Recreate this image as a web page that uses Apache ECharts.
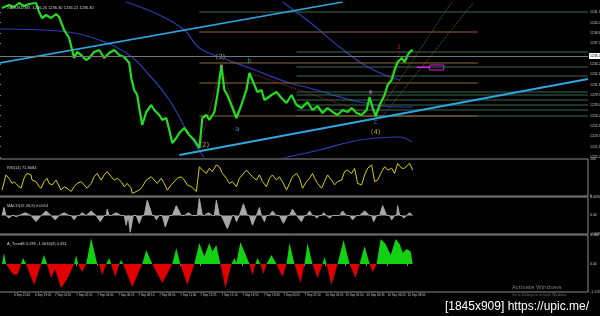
<!DOCTYPE html>
<html><head><meta charset="utf-8">
<script src="https://cdn.jsdelivr.net/npm/echarts@6/dist/echarts.min.js"></script>
<style>html,body{margin:0;padding:0;background:#000;}#c{width:600px;height:316px;}</style>
</head><body><div id="c"></div>
<script>
// ---------- DATA ----------
const priceBars = [[3,1242.6],[10,1243.05],[15,1242.75],[20,1243.35],[25,1242.9],[30,1243.2],[37,1243.35],[40,1242.0],[43,1241.1],[47,1241.55],[52,1241.1],[57,1241.7],[60,1241.25],[65,1239.3],[70,1238.1],[73,1236.3],[75,1235.1],[78,1236.0],[82,1235.55],[87,1234.8],[90,1235.1],[95,1236.0],[100,1236.3],[105,1235.1],[110,1235.85],[115,1236.3],[120,1235.55],[125,1235.25],[130,1234.35],[132,1232.1],[135,1230.3],[138,1229.55],[140,1227.6],[143,1225.05],[147,1227.0],[152,1228.05],[155,1227.3],[160,1226.55],[163,1225.8],[167,1226.1],[170,1224.3],[173,1222.35],[177,1223.1],[180,1223.85],[185,1224.6],[190,1223.55],[195,1222.8],[200,1221.6],[203,1226.1],[207,1226.55],[210,1225.8],[215,1227.0],[218,1229.55],[222,1233.9],[225,1230.3],[228,1229.55],[232,1228.05],[237,1226.1],[242,1228.05],[247,1230.3],[250,1232.85],[255,1231.05],[258,1230.0],[262,1230.3],[265,1228.8],[268,1229.1],[272,1229.55],[277,1230.0],[282,1229.1],[287,1228.35],[292,1229.55],[297,1228.05],[302,1227.6],[308,1228.5],[313,1227.3],[318,1227.9],[323,1226.85],[328,1227.6],[333,1227.0],[338,1226.55],[343,1227.3],[348,1227.0],[352,1227.6],[357,1226.85],[362,1226.55],[367,1227.3],[370,1229.25],[373,1227.6],[376,1226.4],[380,1228.05],[385,1229.55],[388,1231.05],[392,1231.8],[395,1233.3],[398,1234.5],[402,1235.1],[405,1234.5],[408,1235.55],[410,1236.0],[413,1236.3]];
const currentPrice = 1235.40;
const priceTicks = [1220.25,1221.80,1223.35,1224.90,1226.45,1228.00,1229.55,1231.10,1232.65,1234.20,1237.30,1238.85,1240.40,1241.95];

const navyA = [[0,1239.45],[60,1239.15],[100,1237.8],[130,1235.55],[150,1232.55],[170,1228.8],[190,1223.55],[205,1220.1]];
const navyB = [[127,1243.5],[160,1241.55],[185,1239.3],[200,1236.6],[223,1235.1],[250,1233.6],[290,1231.35],[310,1230.6],[360,1228.5],[400,1227.75],[413,1227.75]];
const navyC = [[283,1243.5],[310,1240.5],[340,1236.75],[370,1233.6],[400,1231.8]];
const navyD = [[283,1220.1],[320,1221.3],[360,1222.8],[400,1223.25],[412,1222.5]];

const cyanUpper = [[0,1234.35],[343,1243.5]];
const cyanLower = [[180,1220.55],[588,1231.95]];

const fibLevels = [1242.00,1236.00,1233.75,1232.40,1230.00,1229.55,1228.80,1228.05,1227.30,1226.40];
const fibNames  = ['423.6','261.8','200.0','161.8','100.0','61.8','50.0','38.2','23.6','0.0'];
const fibStart  = [200,297,297,297,297,297,297,297,297,297];
const fibEnd = 588;
const feLevels = [1239.00,1234.35,1231.35,1226.40];
const feNames  = ['FE 161.8','FE 100.0','FE 61.8','FE 0.0'];
const feStart = 200, feEnd = 478;

const fanA = [[376,1226.4],[452,1243.5]];
const fanB = [[383,1226.4],[474,1243.5]];
const waveLine = [[200,1221.6],[222,1233.9],[238,1226.1],[250,1232.85],[376,1226.4],[400,1236.15]];
const wavePts  = [[205,1222.0],[221,1235.2],[250,1234.6],[238,1224.4],[376,1225.4],[376,1224.0],[399,1236.7]];
const waveText = ['(2)','(3)','b','a','c','(4)','3'];
const waveKind = ['major','major','minor','minor','minor','major','red'];
const pivotDots = [[222,1233.9],[371,1230.0],[376,1226.6]];
const targetBox = [[430,1233.3],[444,1234.05]];
const targetDash = [[417,1233.7],[430,1233.7]];

const rsiPts = [[3,16],[7,57],[10,48],[13,34],[15,39],[18,30],[22,21],[25,48],[28,61],[32,57],[33,43],[37,39],[40,25],[42,21],[45,39],[48,48],[50,34],[53,30],[57,43],[58,48],[62,16],[65,25],[68,21],[72,12],[75,25],[78,34],[82,39],[85,30],[88,21],[92,34],[95,52],[98,61],[102,43],[105,57],[108,66],[112,52],[115,43],[118,48],[122,39],[125,25],[128,34],[132,21],[133,7],[137,12],[140,16],[143,25],[147,43],[152,52],[155,43],[158,34],[162,48],[165,34],[168,16],[172,30],[175,39],[178,48],[182,52],[185,43],[188,30],[192,25],[197,12],[200,79],[203,70],[207,61],[210,75],[213,66],[217,84],[220,79],[223,61],[227,48],[230,34],[233,39],[237,25],[240,48],[243,57],[247,70],[250,61],[253,52],[257,43],[260,57],[263,39],[267,25],[270,48],[273,57],[277,43],[280,52],[283,39],[287,16],[290,34],[293,52],[297,61],[300,48],[303,21],[307,39],[310,48],[313,61],[315,48],[318,34],[322,21],[325,39],[328,57],[332,43],[335,30],[338,39],[342,43],[345,66],[348,70],[352,61],[355,75],[358,34],[362,30],[365,57],[368,75],[372,84],[375,39],[378,43],[382,66],[385,79],[388,70],[392,75],[395,61],[398,88],[402,75],[405,75],[408,84],[410,88],[413,70]];

// [start, peak, end, value] histogram humps
const macdHumps = [[3,5,7,0.0041],[7,10,13,-0.0013],[15,17,20,-0.0006],[20,26,32,0.0014],[33,37,42,-0.0031],[43,47,52,0.0023],[53,56,60,-0.0022],[60,65,70,0.0014],[72,75,78,-0.0022],[80,83,87,0.0014],[88,92,97,0.0023],[98,101,105,-0.0031],[107,108,110,0.0032],[112,117,122,0.0014],[125,127,129,-0.0049],[130,131,134,-0.0085],[137,140,143,-0.0040],[145,148,153,0.0077],[155,157,160,-0.0022],[163,166,170,-0.0058],[173,177,182,0.0050],[185,189,193,0.0014],[198,200,203,0.0086],[205,209,213,0.0014],[215,217,220,0.0077],[222,228,233,-0.0067],[235,237,240,-0.0031],[240,244,248,0.0059],[250,253,257,-0.0049],[258,260,262,0.0041],[263,265,267,-0.0031],[270,273,277,0.0023],[280,284,288,-0.0040],[290,293,297,0.0032],[297,302,305,-0.0031],[307,310,313,0.0023],[315,317,320,-0.0013],[322,324,327,0.0014],[328,330,333,-0.0013],[340,343,347,0.0023],[350,353,357,-0.0022],[360,365,370,0.0023],[372,374,377,-0.0031],[380,383,387,0.0050],[390,392,395,-0.0022],[397,398,400,0.0050],[402,404,407,-0.0013],[408,410,413,0.0014]];

const trendPts = [[3,0],[5,0.44],[7,0],[8,0],[12,-0.3],[15,-0.44],[19,-0.4],[22,0],[24,0.24],[27,0],[28,0],[35,-0.84],[42,0],[43,0],[45,0.36],[48,0],[49,0],[52,-0.56],[56,-0.2],[62,-0.96],[68,-0.6],[75,0],[76,0],[77,0.36],[79,0],[80,0],[83,-0.32],[87,0],[92,1.04],[98,0],[100,0],[103,-0.44],[107,0],[110,0.24],[112,0],[116,-0.52],[120,0],[122,0.16],[124,0],[125,0],[133,-0.92],[143,0],[147,0.56],[153,0],[154,0],[163,-0.76],[173,0],[177,0.64],[181,0],[182,0],[188,-0.84],[195,0],[200,0.84],[205,0.3],[210,0.84],[213,0.5],[217,0.76],[221,0],[226,-0.96],[232,0],[235,0.24],[237,0.05],[241,0.88],[250,0],[253,-0.44],[256,0],[258,0.24],[261,0],[264,-0.4],[267,0],[272,0.36],[277,0],[283,-0.52],[287,0],[290,0.84],[295,0],[301,-0.76],[305,0],[308,0.84],[313,0],[318,-0.56],[323,0],[325,0.28],[327,0],[332,-0.84],[338,0],[344,0.96],[350,0],[356,-0.56],[360,0],[365,0.72],[370,0],[373,-0.32],[377,0],[381,1.0],[386,0.8],[391,0.35],[396,1.0],[400,0.8],[403,0.45],[407,0.6],[411,0.5],[413,0]];

const timeTicks  = [3,15,36,56,77,98,119,139,160,181,201,222,243,264,284,305,326,346,367,388,408];
const timeLabels = ['6 Sep 2018','6 Sep 21:40','6 Sep 23:25','7 Sep 01:10','7 Sep 02:55','7 Sep 04:40','7 Sep 06:25','7 Sep 08:10','7 Sep 09:55','7 Sep 11:40','7 Sep 13:25','7 Sep 15:10','7 Sep 16:55','7 Sep 18:40','7 Sep 20:25','7 Sep 22:10','10 Sep 01:05','10 Sep 02:50','10 Sep 04:35','10 Sep 06:20','10 Sep 08:05'];

const headerText = 'XAUUSD,M5  1236.26 1236.30 1236.22 1236.30';
const paneTitles = ['RSI(14) 71.8084','MACD(12,26,9) 0.0014','A_TrendE 0.289 -1.5634(3) 0.431'];

// ---------- CHART ----------
const chart = echarts.init(document.getElementById('c'), null, {renderer:'canvas'});
const GREY = '#8c8c8c', LBL = '#c4c4c4';
const X_MAX = 588;
const G = {left:-1, right:12, outerBoundsMode:'none', containLabel:false};
const grids = [
  Object.assign({top:2, height:155}, G),
  Object.assign({top:159, height:37, show:true, borderColor:GREY, borderWidth:1}, G),
  Object.assign({top:197, height:37, show:true, borderColor:GREY, borderWidth:1}, G),
  Object.assign({top:235, height:57, show:true, borderColor:GREY, borderWidth:1}, G)
];
const xAxes = grids.map((g,i)=>({
  type:'value', gridIndex:i, min:0, max:X_MAX, show: i===3,
  splitLine:{show:false}, axisLine:{show:false},
  axisTick:{show:i===3, customValues:timeTicks, length:2, lineStyle:{color:GREY}},
  axisLabel:{show:i===3, customValues:timeTicks, fontSize:3, color:LBL, margin:2, align:'left',
    formatter:v=>{const k=timeTicks.indexOf(v);return k>=0?timeLabels[k]:'';}}
}));
const subAxis = (i,min,max,vals,fmt)=>({
  type:'value', gridIndex:i, position:'right', min, max, splitLine:{show:false},
  axisLine:{show:false}, axisTick:{show:false},
  axisLabel:{customValues:vals, fontSize:3.5, color:LBL, margin:2, formatter:fmt}
});
const yAxes = [
  {type:'value', gridIndex:0, position:'right', min:1220.25, max:1243.5, splitLine:{show:false},
   axisLine:{show:true, lineStyle:{color:GREY}}, axisTick:{show:true, customValues:priceTicks, length:2, lineStyle:{color:GREY}},
   axisLabel:{customValues:priceTicks, fontSize:3.5, color:LBL, margin:2, formatter:v=>v.toFixed(2)}},
  subAxis(1,0,100,[0,100],v=>String(v)),
  subAxis(2,-0.0094,0.0094,[-0.0094,0,0.0094],v=>v===0?'0.00':v.toFixed(4)),
  subAxis(3,-1.12,1.16,[-1.12,0,1.16],v=>v===0?'0.00':v.toFixed(3))
];

const lineS = (data, color, width, extra) => Object.assign({
  type:'line', data, xAxisIndex:0, yAxisIndex:0, symbol:'none', silent:true,
  lineStyle:{color, width}, animation:false
}, extra||{});

const series = [];
[navyA,navyB,navyC,navyD].forEach(d=>series.push(lineS(d,'#2a3fb0',1.2,{smooth:0.4})));
fibLevels.forEach((p,i)=>series.push(lineS([[fibStart[i],p],{value:[fibEnd,p],label:{show:true,position:'top',align:'right',distance:1,fontSize:4,color:'#4f8a66',formatter:fibNames[i]+' - '+p.toFixed(2)}}],'#3b6b50',1)));
feLevels.forEach((p,i)=>series.push(lineS([[feStart,p],{value:[feEnd,p],label:{show:true,position:'top',align:'right',distance:1,fontSize:4,color:'#b08a3a',formatter:feNames[i]+' - '+p.toFixed(2)}}],'#8a6a32',1)));
series.push(lineS(fanA,'#7a5a28',1,{lineStyle:{color:'#7a5a28',width:1,type:'dotted'}}));
series.push(lineS(fanB,'#7a5a28',1,{lineStyle:{color:'#7a5a28',width:1,type:'dotted'}}));
series.push(lineS(cyanUpper,'#2fa6e0',1.6));
series.push(lineS(cyanLower,'#2fa6e0',2));
series.push(lineS(waveLine,'#a02828',1,{lineStyle:{color:'#a02828',width:1,type:'dotted'}}));
series.push(lineS(priceBars,'#22dd22',2.2,{
  markLine:{silent:true, symbol:'none', animation:false,
    lineStyle:{color:'#777',width:1,type:'solid'},
    label:{position:'end',fontSize:3.5,color:'#000',backgroundColor:'#fff',padding:[1,1],distance:1,formatter:currentPrice.toFixed(2)},
    data:[{yAxis:currentPrice}]},
  markArea:{silent:true, itemStyle:{color:'rgba(0,0,0,0)',borderColor:'#e020e0',borderWidth:1},
    data:[[{coord:targetBox[0]},{coord:targetBox[1]}]]}
}));
series.push(lineS(targetDash,'#e020e0',1.5));
series.push({type:'scatter', data:pivotDots, symbol:'rect', symbolSize:3, itemStyle:{color:'#ff6fb8'}, silent:true, animation:false});
const waveColor = {major:'#d8c450', minor:'#3aa2dc', red:'#e03030'};
series.push({type:'scatter', symbolSize:0, silent:true, animation:false,
  data: wavePts.map((p,i)=>({value:p,label:{show:true,position:'inside',formatter:waveText[i],
    color:waveColor[waveKind[i]],fontSize:waveKind[i]==='red'?6:7,fontFamily:'DejaVu Sans'}}))});

series.push({type:'line', xAxisIndex:1, yAxisIndex:1, data:rsiPts, symbol:'none', lineStyle:{color:'#d8d000',width:1}, silent:true, animation:false});
const macdPts = [];
macdHumps.forEach(h=>{macdPts.push([h[0],0],[h[1],h[3]],[h[2],0]);});
series.push({type:'line', xAxisIndex:2, yAxisIndex:2, data:macdPts, symbol:'none', lineStyle:{color:'#a8a8a8',width:1}, areaStyle:{color:'#a8a8a8',opacity:1}, silent:true, animation:false});
const posPts = trendPts.map(p=>[p[0],Math.max(p[1],0)]);
const negPts = trendPts.map(p=>[p[0],Math.min(p[1],0)]);
series.push({type:'line', xAxisIndex:3, yAxisIndex:3, data:posPts, symbol:'none', lineStyle:{width:0}, areaStyle:{color:'#12d012',opacity:1}, silent:true, animation:false});
series.push({type:'line', xAxisIndex:3, yAxisIndex:3, data:negPts, symbol:'none', lineStyle:{width:0}, areaStyle:{color:'#e00000',opacity:1}, silent:true, animation:false});

const titles = [
  {text:headerText, left:2, top:1, textStyle:{fontSize:4, color:'#d0d0d0', fontWeight:'normal'}},
  {text:paneTitles[0], left:2, top:161, textStyle:{fontSize:4, color:'#d0d0d0', fontWeight:'normal'}},
  {text:paneTitles[1], left:2, top:199, textStyle:{fontSize:4, color:'#d0d0d0', fontWeight:'normal'}},
  {text:paneTitles[2], left:2, top:237, textStyle:{fontSize:4, color:'#d0d0d0', fontWeight:'normal'}},
  {text:'Activate Windows', left:507, top:279, textStyle:{fontSize:6, color:'#7a7a7a', fontWeight:'normal', fontFamily:'Noto Sans'}},
  {text:'Go to Settings to activate Windows.', left:507, top:288, textStyle:{fontSize:3.5, color:'#6a6a6a', fontWeight:'normal'}},
  {text:'[1845x909] https://upic.me/', right:6, top:296, textStyle:{fontSize:12, color:'#ffffff', fontWeight:'normal', fontFamily:'Liberation Sans'}}
];

chart.setOption({
  backgroundColor:'#000',
  animation:false,
  title:titles,
  grid:grids, xAxis:xAxes, yAxis:yAxes, series
});
</script>
</body></html>
